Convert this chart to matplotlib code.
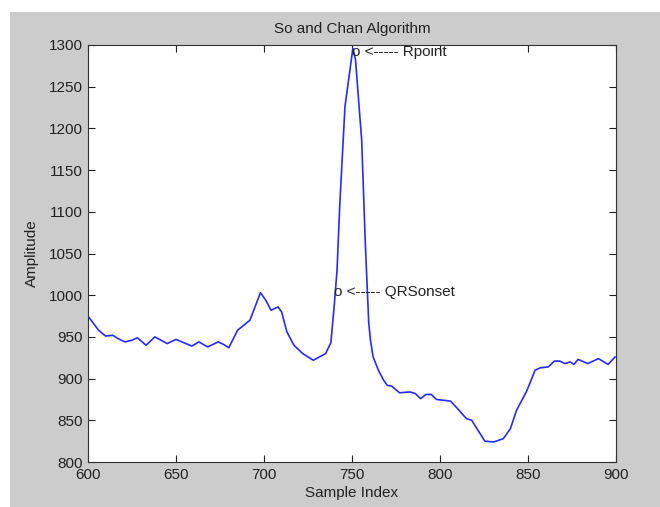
import matplotlib
matplotlib.use("Agg")
import matplotlib.pyplot as plt
from matplotlib.patches import Rectangle

# ---- data ----
sample_index = [600, 606, 610, 614, 617, 621, 625, 628, 633, 638, 645, 650, 659, 663,
                668, 674, 677, 680, 685, 692, 696, 698, 701, 704, 708, 710, 713, 717,
                722, 728, 735, 738, 740, 741.5, 743, 746, 750.5, 752, 755.5, 757.5,
                759.5, 760.5, 762, 765, 768, 770, 772.5, 777, 783, 786, 789, 792, 795,
                798, 806, 810, 815, 818, 821, 825.5, 830.5, 836, 840, 843.5, 849, 851,
                854, 857, 861.5, 865, 868, 871, 874, 876, 878.5, 884, 890, 895.5, 899.5]
amplitude = [975, 958, 951, 952, 948, 944, 946, 949, 940, 950, 942, 947, 939, 944,
             938, 944, 941, 937, 958, 970, 992, 1003, 994, 982, 986, 980, 956, 940,
             930, 922, 930, 943, 990, 1030, 1106, 1226, 1296, 1282, 1186, 1066,
             967, 946, 926, 910, 898, 892, 891, 883, 884, 882, 876, 881, 881,
             875, 873, 864, 852, 850, 840, 825, 824, 828, 840, 862, 884, 894,
             910, 913, 914, 921, 921, 918, 920, 917, 923, 918, 924, 917, 926]

r_point = (750, 1292)
qrs_onset = (740, 1004)
r_label = "o <----- Rpoint"
qrs_label = "o <----- QRSonset"

x_ticks = [600, 650, 700, 750, 800, 850, 900]
y_ticks = [800, 850, 900, 950, 1000, 1050, 1100, 1150, 1200, 1250, 1300]

title = "So and Chan Algorithm"
xlabel = "Sample Index"
ylabel = "Amplitude"

# ---- figure ----
plt.rcParams['font.family'] = ['Liberation Sans', 'DejaVu Sans']
W, H = 660, 507
fig = plt.figure(figsize=(W / 100, H / 100), dpi=100, facecolor='white')
bg = Rectangle((10 / W, 0), 1 - 10 / W, (H - 12) / H,
               transform=fig.transFigure, facecolor='#cccccc',
               edgecolor='none', zorder=-10)
fig.add_artist(bg)

ax = fig.add_axes([88 / W, (H - 462) / H, (616 - 88) / W, (462 - 45) / H])
ax.set_zorder(5)
ax.set_facecolor('white')
ax.plot(sample_index, amplitude, color='#2a2aff', linewidth=1.2)

ax.text(r_point[0], r_point[1], r_label, ha='left', va='center',
        fontsize=11, color='#222222')
ax.text(qrs_onset[0], qrs_onset[1], qrs_label, ha='left', va='center',
        fontsize=11, color='#222222')

ax.set_xlim(600, 900)
ax.set_ylim(800, 1300)
ax.set_xticks(x_ticks)
ax.set_yticks(y_ticks)
ax.tick_params(direction='in', length=5, width=0.8, top=True, right=True,
               labelsize=11, colors='#222222')
ax.tick_params(axis='y', pad=4)
ax.tick_params(axis='x', pad=4)
for s in ax.spines.values():
    s.set_color('#333333')
    s.set_linewidth(0.8)

ax.set_title(title, fontsize=11, color='#222222', pad=9)
ax.set_xlabel(xlabel, fontsize=11, color='#222222', labelpad=3)
ax.set_ylabel(ylabel, fontsize=11, color='#222222', labelpad=7)

fig.savefig('out.png', dpi=100, facecolor=fig.get_facecolor())
